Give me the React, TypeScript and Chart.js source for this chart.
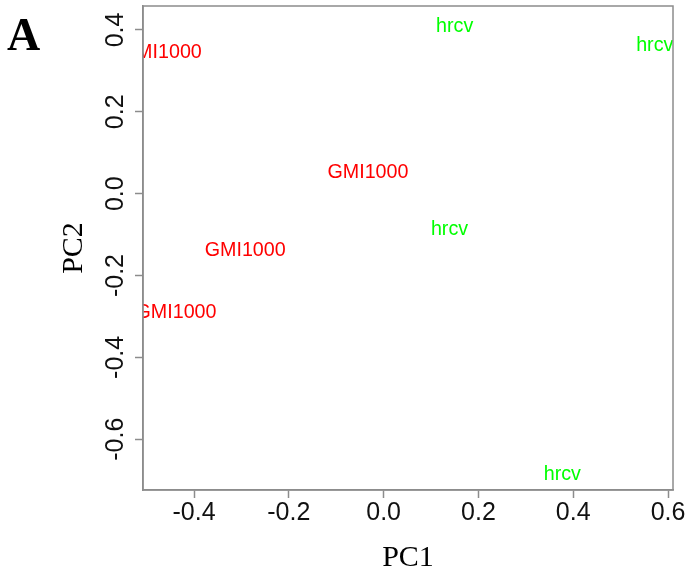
import React, { useEffect, useRef } from "react";
import { Chart, registerables } from "chart.js";

Chart.register(...registerables);

// PCA scores
const gmiLabel = "GMI1000";
const gmiPC1 = [-0.469, -0.033, -0.292, -0.438];
const gmiPC2 = [0.349, 0.056, -0.134, -0.287];

const hrcvLabel = "hrcv";
const hrcvPC1 = [0.15, 0.572, 0.139, 0.377];
const hrcvPC2 = [0.412, 0.366, -0.085, -0.683];

const xTicks = [-0.4, -0.2, 0.0, 0.2, 0.4, 0.6];
const yTicks = [-0.6, -0.4, -0.2, 0.0, 0.2, 0.4];
const xRange = [-0.5076, 0.6105];
const yRange = [-0.724, 0.4585];

const AXIS_GRAY = "#8c8c8c";
const SANS = "'Liberation Sans', Arial, sans-serif";
const SERIF = "'Liberation Serif', 'Times New Roman', serif";

const textLabelsPlugin = {
  id: "textLabels",
  afterDatasetsDraw(chart: any) {
    const { ctx, chartArea } = chart;
    ctx.save();
    ctx.beginPath();
    ctx.rect(chartArea.left, chartArea.top, chartArea.right - chartArea.left, chartArea.bottom - chartArea.top);
    ctx.clip();
    ctx.font = `19.7px ${SANS}`;
    ctx.textAlign = "center";
    ctx.textBaseline = "alphabetic";
    chart.data.datasets.forEach((ds: any, i: number) => {
      const meta = chart.getDatasetMeta(i);
      ctx.fillStyle = ds.textColor;
      meta.data.forEach((el: any) => {
        ctx.fillText(ds.label, el.x, el.y + 7);
      });
    });
    ctx.restore();
  },
  afterDraw(chart: any) {
    const { ctx, chartArea } = chart;
    ctx.save();
    // frame box
    ctx.strokeStyle = AXIS_GRAY;
    ctx.lineWidth = 1.5;
    ctx.strokeRect(chartArea.left, chartArea.top, chartArea.right - chartArea.left, chartArea.bottom - chartArea.top);
    // rotated y tick labels
    const ys = chart.scales.y;
    ctx.fillStyle = "#111";
    ctx.font = `25px ${SANS}`;
    ctx.textAlign = "center";
    ctx.textBaseline = "alphabetic";
    ys.ticks.forEach((t: any) => {
      const py = ys.getPixelForValue(t.value);
      ctx.save();
      ctx.translate(114, py);
      ctx.rotate(-Math.PI / 2);
      ctx.fillText(Number(t.value).toFixed(1), 0, 9);
      ctx.restore();
    });
    // panel letter
    ctx.fillStyle = "#000";
    ctx.font = `bold 46px ${SERIF}`;
    ctx.textAlign = "left";
    ctx.fillText("A", 7, 50);
    ctx.restore();
  },
};

export default function App() {
  const ref = useRef<HTMLCanvasElement>(null);
  useEffect(() => {
    if (!ref.current) return;
    const chart = new Chart(ref.current, {
      type: "scatter",
      data: {
        datasets: [
          {
            label: gmiLabel,
            data: gmiPC1.map((x, i) => ({ x, y: gmiPC2[i] })),
            pointRadius: 0,
            textColor: "#ff0000",
          } as any,
          {
            label: hrcvLabel,
            data: hrcvPC1.map((x, i) => ({ x, y: hrcvPC2[i] })),
            pointRadius: 0,
            textColor: "#00ff00",
          } as any,
        ],
      },
      options: {
        responsive: false,
        animation: false,
        devicePixelRatio: 1,
        layout: { padding: { left: 0, top: 6, right: 15, bottom: 0 } },
        plugins: { legend: { display: false }, tooltip: { enabled: false } },
        scales: {
          x: {
            type: "linear",
            min: xRange[0],
            max: xRange[1],
            afterBuildTicks: (s: any) => {
              s.ticks = xTicks.map((v) => ({ value: v }));
            },
            afterFit: (s: any) => {
              s.height = 90;
            },
            grid: {
              drawOnChartArea: false,
              drawTicks: true,
              tickLength: 8,
              tickColor: AXIS_GRAY,
              tickWidth: 1.5,
            },
            border: { display: true, color: AXIS_GRAY, width: 1.5 },
            ticks: {
              autoSkip: false,
              maxRotation: 0,
              padding: 0,
              color: "#111",
              font: { family: SANS, size: 25 },
              callback: (v: any) => Number(v).toFixed(1),
            },
            title: {
              display: true,
              text: "PC1",
              color: "#000",
              font: { family: SERIF, size: 30 },
              padding: { top: 0, bottom: 4 },
            },
          },
          y: {
            type: "linear",
            min: yRange[0],
            max: yRange[1],
            afterBuildTicks: (s: any) => {
              s.ticks = yTicks.map((v) => ({ value: v }));
            },
            afterFit: (s: any) => {
              s.width = 143;
            },
            grid: {
              drawOnChartArea: false,
              drawTicks: true,
              tickLength: 8,
              tickColor: AXIS_GRAY,
              tickWidth: 1.5,
            },
            border: { display: true, color: AXIS_GRAY, width: 1.5 },
            ticks: { display: false },
            title: {
              display: true,
              text: "PC2",
              color: "#000",
              font: { family: SERIF, size: 30 },
              padding: { top: 56, bottom: 0 },
            },
          },
        },
      },
      plugins: [textLabelsPlugin],
    });
    return () => chart.destroy();
  }, []);
  return (
    <div style={{ position: "absolute", left: 0, top: 0, width: 688, height: 580, background: "#fff" }}>
      <canvas ref={ref} width={688} height={580} />
    </div>
  );
}
